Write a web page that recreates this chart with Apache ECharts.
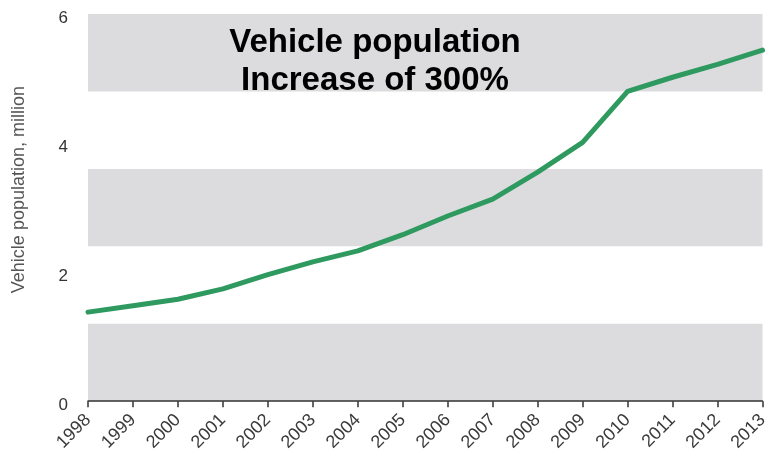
<!DOCTYPE html>
<html>
<head>
<meta charset="utf-8">
<title>Vehicle population</title>
<script src="https://cdn.jsdelivr.net/npm/echarts@6/dist/echarts.min.js"></script>
<style>
  html, body { margin: 0; padding: 0; background: #ffffff; }
  #chart { width: 771px; height: 454px; }
</style>
</head>
<body>
<div id="chart"></div>
<script>
// Years on the horizontal axis
const years = ['1998', '1999', '2000', '2001', '2002', '2003', '2004', '2005',
               '2006', '2007', '2008', '2009', '2010', '2011', '2012', '2013'];

// Vehicle population, million
const vehicles = [1.38, 1.48, 1.58, 1.74, 1.96, 2.16, 2.33, 2.58,
                  2.87, 3.13, 3.55, 4.01, 4.80, 5.02, 5.22, 5.44];

// Labelled value-axis ticks and the step of the shaded bands
const yTicks = { min: 0, max: 6, step: 2 };
const bandStep = 1.2;

const headline = ['Vehicle population', 'Increase of 300%'];
const yTitle = 'Vehicle population, million';

const chart = echarts.init(document.getElementById('chart'), null, { renderer: 'canvas' });

chart.setOption({
  animation: false,
  backgroundColor: '#ffffff',
  grid: { left: 88, right: 6, top: 14, bottom: 51, containLabel: false },
  xAxis: {
    type: 'category',
    data: years,
    boundaryGap: false,
    axisLine: { show: true, lineStyle: { color: '#333333', width: 1.5 } },
    axisTick: { show: true, length: 6, lineStyle: { color: '#333333', width: 1.5 } },
    axisLabel: {
      rotate: 45,
      margin: 16,
      color: '#3a3a3a',
      fontFamily: 'Liberation Sans, Arial, sans-serif',
      fontSize: 18,
      interval: 0
    },
    splitLine: { show: false }
  },
  yAxis: [
    {
      type: 'value',
      min: yTicks.min,
      max: yTicks.max,
      interval: yTicks.step,
      name: yTitle,
      nameLocation: 'middle',
      nameGap: 60,
      nameTextStyle: {
        color: '#555555',
        fontFamily: 'Liberation Sans, Arial, sans-serif',
        fontSize: 18,
        padding: [0, 0, 0, 36]
      },
      axisLine: { show: false },
      axisTick: { show: false },
      axisLabel: {
        margin: 20,
        color: '#333333',
        fontFamily: 'Liberation Sans, Arial, sans-serif',
        fontSize: 17,
        verticalAlign: 'top',
        lineHeight: 8
      },
      splitLine: { show: false },
      z: 3
    },
    {
      // shaded horizontal bands behind the line
      type: 'value',
      min: yTicks.min,
      max: yTicks.max,
      interval: bandStep,
      position: 'left',
      axisLine: { show: false },
      axisTick: { show: false },
      axisLabel: { show: false },
      splitLine: { show: false },
      splitArea: {
        show: true,
        areaStyle: { color: ['#dcdcde', 'rgba(255,255,255,0)'] }
      }
    }
  ],
  graphic: [
    {
      type: 'text',
      x: 375,
      y: 24,
      z: 10,
      style: {
        text: headline.join('\n'),
        fill: '#000000',
        font: 'bold 33px "Liberation Sans", Arial, sans-serif',
        textAlign: 'center',
        textVerticalAlign: 'top',
        lineHeight: 38
      }
    }
  ],
  series: [
    {
      type: 'line',
      yAxisIndex: 0,
      data: vehicles,
      symbol: 'none',
      smooth: false,
      lineStyle: { color: '#2f9a5f', width: 5, cap: 'round', join: 'round' },
      z: 5
    }
  ]
});
</script>
</body>
</html>
